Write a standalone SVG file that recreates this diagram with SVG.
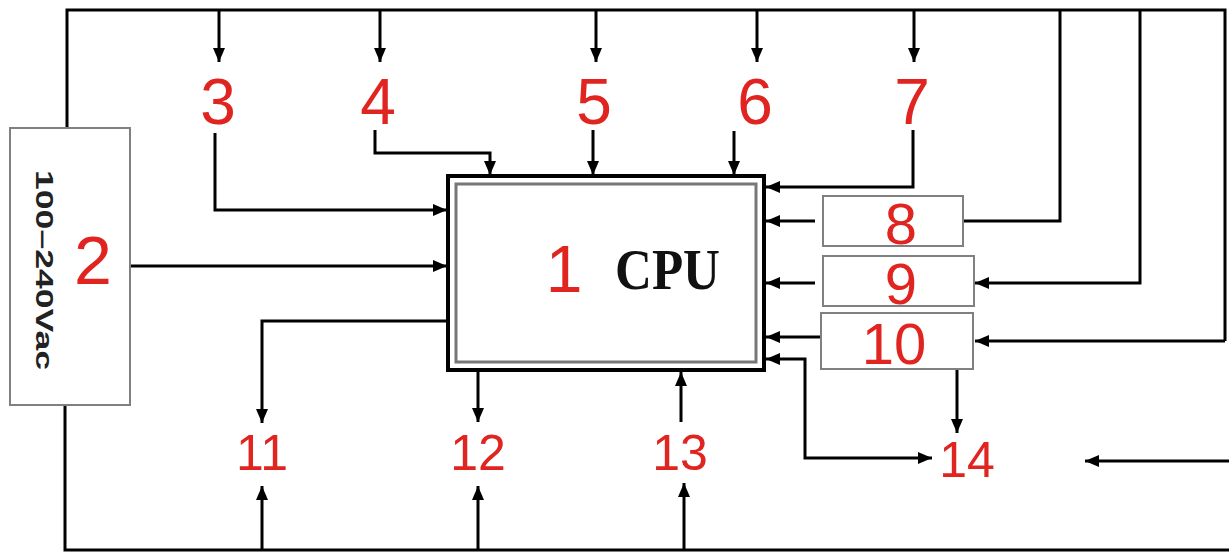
<svg xmlns="http://www.w3.org/2000/svg" width="1229" height="554" viewBox="0 0 1229 554">
<defs>
<marker id="ah" markerUnits="userSpaceOnUse" markerWidth="14" markerHeight="12" refX="14" refY="6" orient="auto-start-reverse">
<path d="M0,0 L14,6 L0,12 z" fill="#000"/>
</marker>
<style>
.ln{fill:none;stroke:#000;stroke-width:3;}
.ar{marker-end:url(#ah);}
.box{fill:#fff;stroke:#808080;stroke-width:2;}
.num{font-family:"Liberation Sans",Arial,sans-serif;fill:#e02420;text-anchor:middle;}
.big{font-size:64px;}
.mid{font-size:58px;}
.sm{font-size:50px;}
</style>
</defs>
<rect width="1229" height="554" fill="#fff"/>
<g id="connectors">
<path class="ln" d="M67 128 V10 H1225 V341"/>
<path class="ln" d="M65 405 V550 H1229"/>
<path class="ln ar" d="M219 10 V62"/>
<path class="ln ar" d="M380 10 V62"/>
<path class="ln ar" d="M596 10 V62"/>
<path class="ln ar" d="M757 10 V62"/>
<path class="ln ar" d="M914 10 V62"/>
<path class="ln ar" d="M215 133 V210 H447"/>
<path class="ln ar" d="M375 130 V153 H490 V175"/>
<path class="ln ar" d="M593 130 V175"/>
<path class="ln ar" d="M734 131 V175"/>
<path class="ln ar" d="M913 130 V187 H766"/>
<path class="ln ar" d="M130 266 H447"/>
<path class="ln ar" d="M448 321 H262 V423"/>
<path class="ln ar" d="M478 370 V422"/>
<path class="ln ar" d="M681 422 V372"/>
<path class="ln ar" d="M262 550 V486"/>
<path class="ln ar" d="M478 550 V486"/>
<path class="ln ar" d="M684 550 V483"/>
<path class="ln" d="M963 221 H1060 V10"/>
<path class="ln ar" d="M815 221 H766"/>
<path class="ln ar" d="M1140 10 V283 H975"/>
<path class="ln ar" d="M815 283 H766"/>
<path class="ln ar" d="M1225 341 H975"/>
<path class="ln ar" d="M821 337 H766"/>
<path class="ln ar" d="M957 369 V433"/>
<path class="ln ar" d="M766 359 H805 V458 H932" style="marker-start:url(#ah)"/>
<path class="ln ar" d="M1229 461 H1085"/>
</g>
<g id="node-2">
<rect class="box" x="10" y="128" width="120" height="277"/>
<text x="43" y="277" transform="rotate(90 43 270)" text-anchor="middle" font-family="Liberation Sans, Arial, sans-serif" font-weight="bold" font-size="24" fill="#222" textLength="200" lengthAdjust="spacingAndGlyphs">100–240Vac</text>
<text class="num" x="93" y="284" font-size="68">2</text>
</g>
<g id="node-1">
<rect x="448" y="176" width="316" height="194" fill="#fff" stroke="#000" stroke-width="4"/>
<rect x="456" y="184" width="300" height="178" fill="none" stroke="#777" stroke-width="3"/>
<text class="num" x="564" y="292" font-size="66">1</text>
<text x="615" y="289" font-family="Liberation Serif, Times New Roman, serif" font-weight="bold" font-size="56" fill="#111" textLength="105" lengthAdjust="spacingAndGlyphs">CPU</text>
</g>
<g id="node-3"><text class="num big" x="218" y="124">3</text></g>
<g id="node-4"><text class="num big" x="378" y="124">4</text></g>
<g id="node-5"><text class="num big" x="594" y="124">5</text></g>
<g id="node-6"><text class="num big" x="755" y="124">6</text></g>
<g id="node-7"><text class="num big" x="912" y="124">7</text></g>
<g id="node-8">
<rect class="box" x="823" y="196" width="140" height="50"/>
<text class="num mid" x="901" y="244">8</text>
</g>
<g id="node-9">
<rect class="box" x="823" y="256" width="151" height="50"/>
<text class="num mid" x="901" y="304">9</text>
</g>
<g id="node-10">
<rect class="box" x="821" y="313" width="152" height="56"/>
<text class="num mid" x="894" y="364">10</text>
</g>
<g id="node-11"><text class="num sm" x="262" y="470">11</text></g>
<g id="node-12"><text class="num sm" x="478" y="470">12</text></g>
<g id="node-13"><text class="num sm" x="680" y="470">13</text></g>
<g id="node-14"><text class="num sm" x="967" y="477">14</text></g>
</svg>
